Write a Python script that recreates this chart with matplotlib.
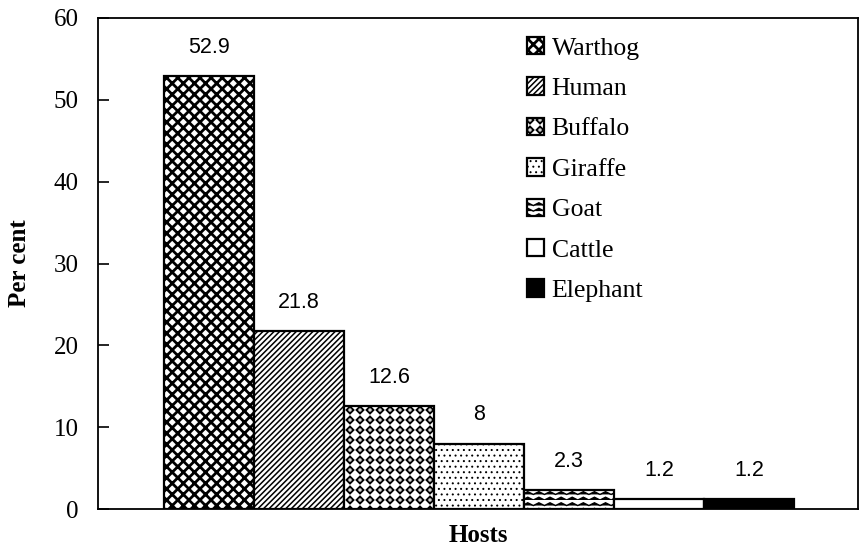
import warnings
warnings.filterwarnings("ignore")
import numpy as np
import matplotlib
matplotlib.use("Agg")
import matplotlib.pyplot as plt
import matplotlib.hatch as mhatch
from matplotlib.path import Path

# ---- data ----
hosts = ["Warthog", "Human", "Buffalo", "Giraffe", "Goat", "Cattle", "Elephant"]
percent = [52.9, 21.8, 12.6, 8, 2.3, 1.2, 1.2]
value_labels = ["52.9", "21.8", "12.6", "8", "2.3", "1.2", "1.2"]
y_ticks = [0, 10, 20, 30, 40, 50, 60]


# ---- custom zigzag hatch ('z') ----
class ZigZagHatch(mhatch.HatchPatternBase):
    def __init__(self, hatch, density):
        self.num_lines = int(hatch.count('z') * density)
        self.teeth = max(1, self.num_lines // 2)
        self.npts = 2 * self.teeth + 1
        self.num_vertices = self.num_lines * self.npts

    def set_vertices_and_codes(self, vertices, codes):
        if self.num_lines == 0:
            return
        step = 1.0 / self.num_lines
        xs = np.linspace(0, 1, self.npts)
        amp = np.tile([0.0, 0.5 * step], self.teeth + 1)[:self.npts]
        for i in range(self.num_lines):
            y0 = i * step
            sl = slice(i * self.npts, (i + 1) * self.npts)
            vertices[sl, 0] = xs
            vertices[sl, 1] = y0 + amp
            codes[sl] = Path.LINETO
            codes[i * self.npts] = Path.MOVETO


# ---- custom small-diamond dot hatch ('d') ----
class DiamondDotHatch(mhatch.HatchPatternBase):
    def __init__(self, hatch, density):
        self.num_rows = int(round(hatch.count('d') * density * 0.85))
        self.num_vertices = (self.num_rows + 1) ** 2 * 5 if self.num_rows else 0

    def set_vertices_and_codes(self, vertices, codes):
        n = self.num_rows
        if n == 0:
            return
        off = 1.0 / n
        r = 0.06 * off
        shape = np.array([[0, r], [r, 0], [0, -r], [-r, 0], [0, r]])
        scodes = [Path.MOVETO, Path.LINETO, Path.LINETO, Path.LINETO, Path.CLOSEPOLY]
        k = 0
        for i in range(n + 1):
            for j in range(n + 1):
                vertices[k:k + 5] = shape + [j * off, i * off]
                codes[k:k + 5] = scodes
                k += 5


mhatch._hatch_types.append(ZigZagHatch)
mhatch._hatch_types.append(DiamondDotHatch)

serif = ["Liberation Serif", "DejaVu Serif"]
sans = ["Liberation Sans", "DejaVu Sans"]

styles = [
    dict(facecolor="white", hatch="xxx", hlw=2.0),
    dict(facecolor="white", hatch="//////", hlw=1.1),
    dict(facecolor="white", hatch="dd", hlw=4.3),
    dict(facecolor="white", hatch="...", hlw=0.7),
    dict(facecolor="white", hatch="zzz", hlw=1.0),
    dict(facecolor="white", hatch=None, hlw=1.0),
    dict(facecolor="black", hatch=None, hlw=1.0),
]


def set_hlw(patch, lw):
    if hasattr(patch, "set_hatch_linewidth"):
        patch.set_hatch_linewidth(lw)


fig = plt.figure(figsize=(8.59, 5.49), dpi=100)
ax = fig.add_axes([98 / 859, 40 / 549, 760 / 859, 491 / 549])

x = np.arange(len(hosts))
for i, (h, v, st) in enumerate(zip(hosts, percent, styles)):
    b = ax.bar(x[i], v, width=1.0, facecolor=st["facecolor"], edgecolor="black",
               linewidth=1.6, hatch=st["hatch"], label=h)
    for p in b.patches:
        set_hlw(p, st["hlw"])

for i, (v, lab) in enumerate(zip(percent, value_labels)):
    ax.annotate(lab, (x[i], v), xytext=(0, 13), textcoords="offset points",
                ha="center", va="bottom", fontsize=15.5, family=sans)

ax.set_xlim(-1.233, 7.211)
ax.set_ylim(0, 60)
ax.set_yticks(y_ticks)
ax.set_yticklabels([str(t) for t in y_ticks], family=serif, fontsize=18)
ax.tick_params(axis="y", direction="in", length=8, width=1.2, pad=14)
ax.set_xticks([])
for s in ax.spines.values():
    s.set_linewidth(1.3)

ax.set_ylabel("Per cent", family=serif, fontsize=18, fontweight="bold")
ax.yaxis.set_label_coords(-0.088, 0.5)
ax.set_xlabel("Hosts", family=serif, fontsize=18, fontweight="bold")
ax.xaxis.set_label_coords(0.5, -0.03)
ax.xaxis.label.set_va("top")

leg = ax.legend(loc="upper left", bbox_to_anchor=(527 / 859, 1 - 37 / 549),
                bbox_transform=fig.transFigure, frameon=False,
                prop={"family": serif, "size": 18.5},
                handlelength=0.66, handleheight=0.66, handletextpad=0.3,
                labelspacing=0.69, borderpad=0, borderaxespad=0)
for hnd, st in zip(leg.legend_handles, styles):
    set_hlw(hnd, st["hlw"])

fig.savefig("out.png", dpi=100)
